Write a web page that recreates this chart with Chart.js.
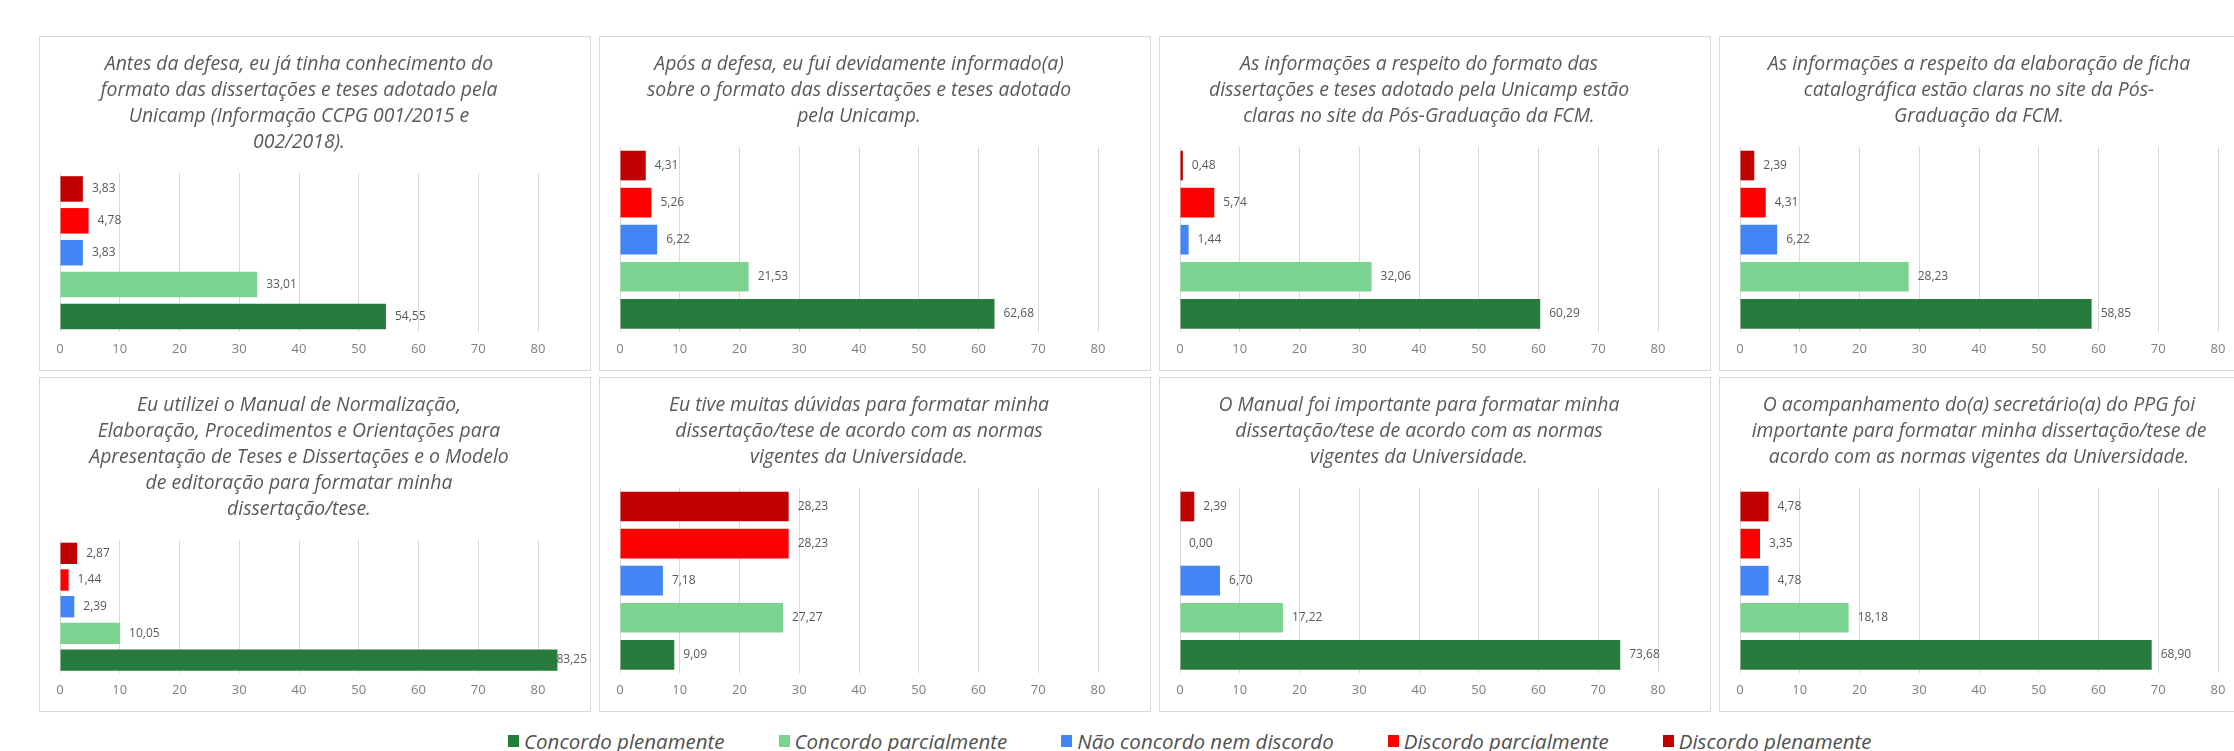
<!DOCTYPE html>
<html lang="pt-BR">
<head>
<meta charset="utf-8">
<title>Avaliação do formato das dissertações e teses</title>
<script src="https://cdn.jsdelivr.net/npm/chart.js@4.4.1/dist/chart.umd.min.js"></script>
<style>
  html, body { margin: 0; padding: 0; background: #fff; }
  body { width: 2234px; height: 751px; overflow: hidden; position: relative; font-family: 'Open Sans', sans-serif; }
  .painel { position: absolute; width: 550px; height: 333px; border: 1px solid #d9d9d9; background: #fff; }
  .painel canvas { display: block; }
  #legenda { position: absolute; left: 508px; top: 727px; display: flex; gap: 54px; align-items: center; white-space: nowrap; }
  #legenda .item { display: flex; align-items: center; font-style: italic; font-size: 20.5px; color: #505050; }
  #legenda .cor { width: 11px; height: 12px; margin-right: 5px; }
</style>
</head>
<body>
<div id="graficos"></div>
<div id="legenda"></div>
<script>
// categorias (de cima para baixo em cada gráfico)
const categorias = ['Discordo plenamente', 'Discordo parcialmente', 'Não concordo nem discordo', 'Concordo parcialmente', 'Concordo plenamente'];
const cores = ['#c00000', '#ff0000', '#4285f4', '#7ad38f', '#277c3d'];
const ticksX = [0, 10, 20, 30, 40, 50, 60, 70, 80];

// porcentagens de cada pergunta
const q1 = [3.83, 4.78, 3.83, 33.01, 54.55];
const q2 = [4.31, 5.26, 6.22, 21.53, 62.68];
const q3 = [0.48, 5.74, 1.44, 32.06, 60.29];
const q4 = [2.39, 4.31, 6.22, 28.23, 58.85];
const q5 = [2.87, 1.44, 2.39, 10.05, 83.25];
const q6 = [28.23, 28.23, 7.18, 27.27, 9.09];
const q7 = [2.39, 0.00, 6.70, 17.22, 73.68];
const q8 = [4.78, 3.35, 4.78, 18.18, 68.90];

// títulos (quebras de linha como no original)
const t1 = ['Antes da defesa, eu já tinha conhecimento do', 'formato das dissertações e teses adotado pela', 'Unicamp (Informação CCPG 001/2015 e', '002/2018).'];
const t2 = ['Após a defesa, eu fui devidamente informado(a)', 'sobre o formato das dissertações e teses adotado', 'pela Unicamp.'];
const t3 = ['As informações a respeito do formato das', 'dissertações e teses adotado pela Unicamp estão', 'claras no site da Pós-Graduação da FCM.'];
const t4 = ['As informações a respeito da elaboração de ficha', 'catalográfica estão claras no site da Pós-', 'Graduação da FCM.'];
const t5 = ['Eu utilizei o Manual de Normalização,', 'Elaboração, Procedimentos e Orientações para', 'Apresentação de Teses e Dissertações e o Modelo', 'de editoração para formatar minha', 'dissertação/tese.'];
const t6 = ['Eu tive muitas dúvidas para formatar minha', 'dissertação/tese de acordo com as normas', 'vigentes da Universidade.'];
const t7 = ['O Manual foi importante para formatar minha', 'dissertação/tese de acordo com as normas', 'vigentes da Universidade.'];
const t8 = ['O acompanhamento do(a) secretário(a) do PPG foi', 'importante para formatar minha dissertação/tese de', 'acordo com as normas vigentes da Universidade.'];

const perguntas = [
  { titulo: t1, valores: q1 }, { titulo: t2, valores: q2 }, { titulo: t3, valores: q3 }, { titulo: t4, valores: q4 },
  { titulo: t5, valores: q5 }, { titulo: t6, valores: q6 }, { titulo: t7, valores: q7 }, { titulo: t8, valores: q8 }
];

const esquerdas = [39, 599, 1159, 1719];
const topos = [36, 377];

Chart.defaults.font.family = "'Open Sans', sans-serif";
Chart.defaults.color = '#595959';

// rótulos de valor no fim das barras (formato 0,00)
const rotulosPlugin = {
  id: 'rotulos',
  afterDatasetsDraw(chart) {
    const ctx = chart.ctx;
    const meta = chart.getDatasetMeta(0);
    ctx.save();
    ctx.font = '12px "Open Sans"';
    ctx.fillStyle = '#595959';
    ctx.textBaseline = 'middle';
    ctx.textAlign = 'left';
    meta.data.forEach((bar, i) => {
      const txt = chart.data.datasets[0].data[i].toFixed(2).replace('.', ',');
      const w = ctx.measureText(txt).width;
      const x = Math.min(bar.x + 9, chart.width - w - 3);
      ctx.fillText(txt, x, bar.y);
    });
    ctx.restore();
  }
};

const container = document.getElementById('graficos');
perguntas.forEach((p, idx) => {
  const div = document.createElement('div');
  div.className = 'painel';
  div.style.left = esquerdas[idx % 4] + 'px';
  div.style.top = topos[Math.floor(idx / 4)] + 'px';
  const canvas = document.createElement('canvas');
  canvas.width = 550;
  canvas.height = 333;
  div.appendChild(canvas);
  container.appendChild(div);

  new Chart(canvas, {
    type: 'bar',
    data: {
      labels: categorias,
      datasets: [{
        data: p.valores,
        backgroundColor: cores,
        borderWidth: 0,
        barPercentage: 0.8,
        categoryPercentage: 1.0,
        clip: false
      }]
    },
    options: {
      indexAxis: 'y',
      responsive: false,
      animation: false,
      maintainAspectRatio: false,
      layout: { padding: { left: 20, right: 52, top: 0, bottom: 4 } },
      plugins: {
        legend: { display: false },
        tooltip: { enabled: false },
        title: {
          display: true,
          text: p.titulo,
          color: '#595959',
          font: { size: 19.4, style: 'italic', weight: 'normal', lineHeight: 26 / 19.4 },
          padding: { top: 14, bottom: 18 }
        }
      },
      scales: {
        x: {
          min: 0,
          max: 80,
          afterBuildTicks: (axis) => { axis.ticks = ticksX.map(v => ({ value: v })); },
          grid: { color: '#d9d9d9', drawTicks: false },
          border: { display: false },
          ticks: { color: '#7f7f7f', font: { size: 13 }, padding: 9 }
        },
        y: { display: false }
      }
    },
    plugins: [rotulosPlugin]
  });
});

// legenda na ordem do original
const legenda = document.getElementById('legenda');
[4, 3, 2, 1, 0].forEach(i => {
  const item = document.createElement('div');
  item.className = 'item';
  item.innerHTML = `<span class="cor" style="background:${cores[i]}"></span>${categorias[i]}`;
  legenda.appendChild(item);
});
</script>
</body>
</html>
